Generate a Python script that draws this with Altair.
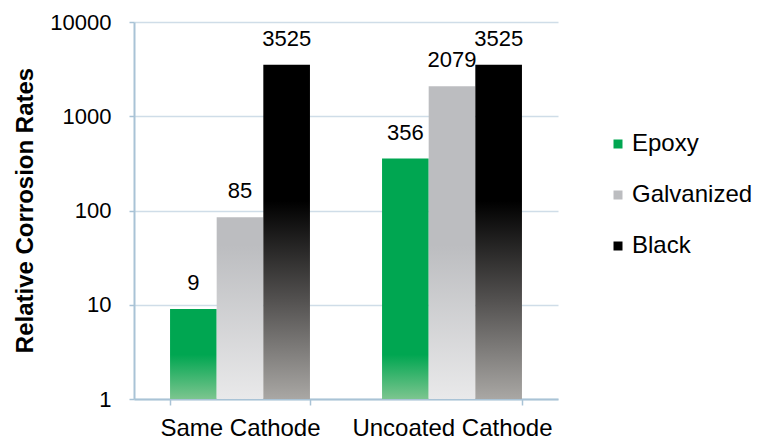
import math

import altair as alt
import pandas as pd

# Relative corrosion rates (log scale), two cathode conditions x three bar types
groups = ["Same Cathode", "Uncoated Cathode"]
series = ["Epoxy", "Galvanized", "Black"]
epoxy = [9, 356]
galvanized = [85, 2079]
black = [3525, 3525]

legend_colors = ["#00a651", "#bcbdc0", "#000000"]

rows = []
for name, vals in zip(series, [epoxy, galvanized, black]):
    for g, v in zip(groups, vals):
        rows.append({"group": g, "series": name, "value": v, "base": 1})
df = pd.DataFrame(rows)

FONT = "Liberation Sans"

# Colour stops per series, given as (decades above 1, colour) so the shading
# sits at the same height in every bar of a series.
shade_stops = {
    "Epoxy": [(0.0, "#7cc58f"), (0.47, "#00a651")],
    "Galvanized": [(0.0, "#e9e9ea"), (1.63, "#bcbdc0")],
    "Black": [(0.0, "#a9a7a4"), (1.05, "#535150"), (2.1, "#000000")],
}


def bar_fill(name, value):
    top = math.log10(value)
    stops = []
    for level, color in shade_stops[name]:
        off = min(max(1.0 - level / top, 0.0), 1.0)
        stops.append((off, color))
    stops.sort(key=lambda s: s[0])
    return alt.LinearGradient(
        gradient="linear",
        x1=0, x2=0, y1=0, y2=1,
        stops=[alt.GradientStop(offset=o, color=c) for o, c in stops],
    )


x_enc = alt.X(
    "group:N",
    sort=groups,
    scale=alt.Scale(domain=groups, paddingInner=0.34, paddingOuter=0.17),
    axis=alt.Axis(
        title=None,
        labelFont=FONT,
        labelFontSize=24,
        labelColor="#000000",
        labelPadding=11,
        labelLimit=400,
        tickSize=6,
        tickBand="extent",
        tickColor="#a9c3d6",
        tickWidth=1.5,
        domainColor="#a9c3d6",
        domainWidth=2,
        grid=False,
        labelAngle=0,
    ),
)
xoff_enc = alt.XOffset(
    "series:N",
    sort=series,
    scale=alt.Scale(domain=series, paddingInner=0, paddingOuter=0),
)
y_enc = alt.Y(
    "value:Q",
    stack=None,
    scale=alt.Scale(type="log", domain=[1, 10000], nice=False),
    axis=alt.Axis(
        title="Relative Corrosion Rates",
        titleFont=FONT,
        titleFontSize=24,
        titleFontWeight="bold",
        titleColor="#000000",
        titleX=-102,
        titleY=188,
        titleAngle=270,
        titleBaseline="alphabetic",
        titleAlign="center",
        values=[1, 10, 100, 1000, 10000],
        format="d",
        labelFont=FONT,
        labelFontSize=22,
        labelColor="#000000",
        labelPadding=18,
        tickSize=5,
        tickColor="#a9c3d6",
        tickWidth=1.5,
        domainColor="#a9c3d6",
        domainWidth=2,
        grid=True,
        gridColor="#cfdde8",
        gridWidth=1.5,
    ),
)
y2_enc = alt.Y2("base:Q")

base = alt.Chart(df)

bar_layers = []
for name, vals in zip(series, [epoxy, galvanized, black]):
    for g, v in zip(groups, vals):
        bar_layers.append(
            base.transform_filter(
                (alt.datum.series == name) & (alt.datum.group == g)
            )
            .mark_bar(fill=bar_fill(name, v), strokeWidth=0)
            .encode(x=x_enc, xOffset=xoff_enc, y=y_enc, y2=y2_enc)
        )

labels = base.mark_text(
    font=FONT, fontSize=22, color="#000000", baseline="alphabetic", dy=-19
).encode(x=x_enc, xOffset=xoff_enc, y=y_enc, text=alt.Text("value:Q", format="d"))

legend_layer = base.mark_square(opacity=0).encode(
    x=x_enc,
    xOffset=xoff_enc,
    y=y_enc,
    color=alt.Color(
        "series:N",
        sort=series,
        scale=alt.Scale(domain=series, range=legend_colors),
        legend=alt.Legend(
            title=None,
            orient="none",
            legendX=472,
            legendY=110,
            padding=0,
            symbolType="square",
            symbolSize=81,
            symbolOpacity=1,
            symbolStrokeWidth=0,
            labelFont=FONT,
            labelFontSize=24,
            labelColor="#000000",
            labelOffset=2,
            rowPadding=27,
        ),
    ),
)

chart = (
    alt.layer(*bar_layers, labels, legend_layer)
    .properties(
        width=424,
        height=377,
        padding={"left": 134, "top": 22, "right": 201, "bottom": 41},
        autosize=alt.AutoSizeParams(type="none"),
        background="#ffffff",
    )
    .configure_view(stroke=None)
)

chart.save("out.html", embed_options={"renderer": "svg", "actions": False})
